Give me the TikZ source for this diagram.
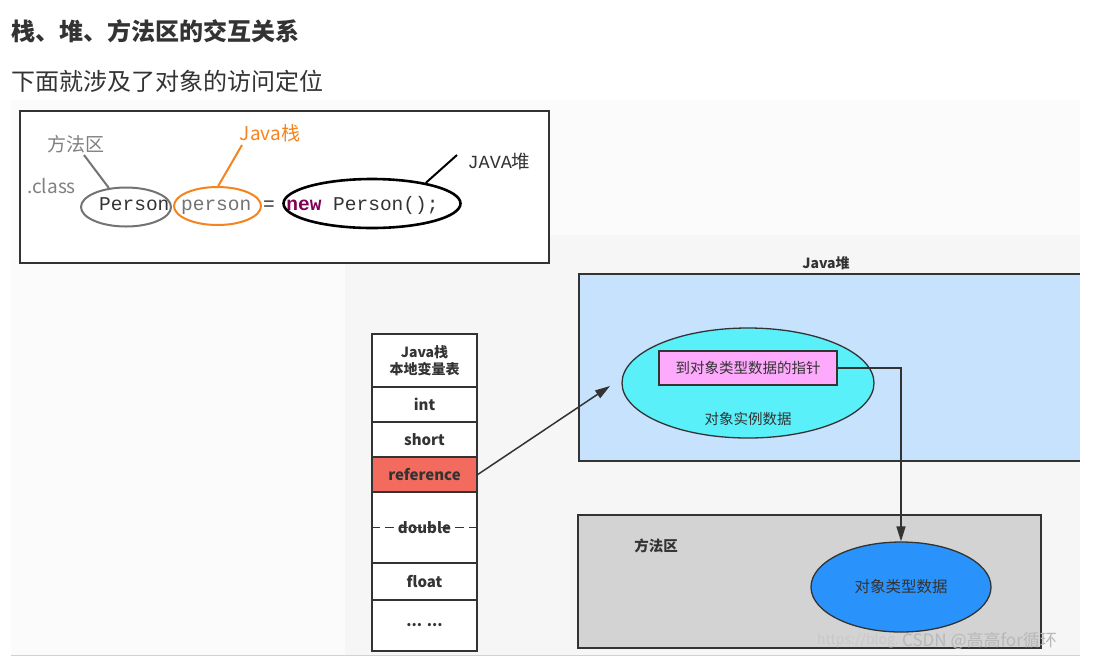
\documentclass[tikz,border=0pt]{standalone}
\usepackage{fontspec}
\setmainfont{Noto Sans CJK SC}
\newfontfamily\mono{Liberation Mono}
\usetikzlibrary{arrows.meta,shapes.geometric}
\definecolor{titlec}{HTML}{333333}
\definecolor{linec}{HTML}{333333}
\definecolor{bgA}{HTML}{FAFBFA}
\definecolor{bgB}{HTML}{F5F6F5}
\definecolor{heapc}{HTML}{C6E2FD}
\definecolor{methc}{HTML}{D2D3D2}
\definecolor{cyanc}{HTML}{5AF0FA}
\definecolor{pinkc}{HTML}{FDA9FC}
\definecolor{bluec}{HTML}{2A92FB}
\definecolor{refc}{HTML}{F26B5E}
\definecolor{grayl}{HTML}{808080}
\definecolor{orangel}{HTML}{F5841F}
\definecolor{purplec}{HTML}{7F0055}
\definecolor{wmc}{HTML}{C8C8C8}
\newcommand\fsz[1]{\fontsize{#1}{#1}\selectfont}
\tikzset{
  cell/.style={draw=linec, line width=1.5, fill=white, minimum width=105, inner sep=0, font=\fsz{15}\bfseries, text=titlec},
  conn/.style={draw=linec, line width=1.5, -{Triangle[length=15,width=9]}},
  lbl/.style={inner sep=0, text=titlec},
}
\begin{document}
\begin{tikzpicture}[x=1pt,y=-1pt]
\useasboundingbox (0,0) rectangle (1105,657);
\fill[white] (0,0) rectangle (1105,657);
% backgrounds
\fill[bgA] (11,100) rectangle (1080,655);
\fill[bgB] (345,235) rectangle (1080,655);
\draw[color=black!18, line width=1.5] (11,655.5) -- (1080,655.5);

% headings
\node[lbl, anchor=west, font=\fsz{24}\bfseries] (title) at (11,31) {栈、堆、方法区的交互关系};
\node[lbl, anchor=west, font=\fsz{24}] (sub) at (11,81) {下面就涉及了对象的访问定位};

% top code box
\node[draw=linec, line width=1.3, fill=white, minimum width=529, minimum height=152, inner sep=0] (codebox) at (284.5,187) {};
\node[inner sep=0, anchor=west, font=\mono\fsz{19.5}] (code) at (99,205)
  {\textcolor{titlec}{Person} \textcolor{black!55}{person} \textcolor{titlec}{=} \textcolor{purplec}{\bfseries new} \textcolor{titlec}{Person();}};
\node[ellipse, draw=black!55, line width=2, minimum width=90, minimum height=39, inner sep=0] (gell) at (126,207) {};
\node[ellipse, draw=orangel, line width=2, minimum width=87, minimum height=38, inner sep=0] (oell) at (217.5,206) {};
\node[ellipse, draw=black, line width=2.6, minimum width=177, minimum height=49, inner sep=0] (bell) at (372,203.5) {};
\node[inner sep=0, text=grayl, font=\fsz{19}] (lmeth) at (76,144) {方法区};
\node[inner sep=0, text=grayl, font=\fsz{19}, anchor=west] (lclass) at (27,186) {.class};
\node[inner sep=0, text=orangel, font=\fsz{19}] (lstack) at (270,133) {Java栈};
\node[inner sep=0, text=titlec, font=\fsz{18.5}] (lheap) at (499,162) {{\mono JAVA}堆};
\coordinate (gend) at (84,155);
\coordinate (oend) at (242,145);
\coordinate (bend) at (457,155);
\draw[black!55, line width=2] (gell.132) -- (gend);
\draw[orangel, line width=2] (oell.88) -- (oend);
\draw[black, line width=2] (bell.21.5) -- (bend);

% Java stack table
\node[cell, minimum height=53, align=center, font=\fontsize{14}{17}\selectfont\bfseries] (hdr) at (424.5,360.5) {Java栈\\本地变量表};
\node[cell, minimum height=35] (int) at (424.5,404.5) {int};
\node[cell, minimum height=35] (short) at (424.5,439.5) {short};
\node[cell, minimum height=35, fill=refc] (ref) at (424.5,474.5) {reference};
\node[cell, minimum height=71] (dbl) at (424.5,527.5) {};
\draw[linec, line width=1.5, dash pattern=on 9pt off 5pt] (dbl.west) -- (dbl.east);
\node[lbl, font=\fsz{15}\bfseries] (dbltxt) at (424.5,528) {double};
\node[cell, minimum height=37] (flt) at (424.5,581.5) {float};
\node[cell, minimum height=51] (dots) at (424.5,625.5) {... ...};

% heap
\node[lbl, font=\fsz{14}\bfseries] (heaplbl) at (826,263) {Java堆};
\fill[heapc] (579,274) rectangle (1080,461);
\draw[linec, line width=1.8] (1080,274) -- (579,274) -- (579,461) -- (1080,461);
\node[ellipse, draw=linec, line width=1.3, fill=cyanc, minimum width=252, minimum height=110, inner sep=0] (inst) at (748,383) {};
\node[draw=linec, line width=1.5, fill=pinkc, minimum width=178, minimum height=34, inner sep=0, font=\fsz{14.5}, text=titlec] (ptr) at (748,368) {到对象类型数据的指针};
\node[lbl, font=\fsz{14.5}] (insttxt) at (748,419) {对象实例数据};

% method area
\node[draw=linec, line width=1.8, fill=methc, minimum width=463, minimum height=133, inner sep=0] (meth) at (809.5,581.5) {};
\node[lbl, font=\fsz{14.5}\bfseries] (methlbl) at (656,546) {方法区};
\node[ellipse, draw=linec, line width=1.3, fill=bluec, minimum width=180, minimum height=90, inner sep=0, font=\fsz{15.5}, text=titlec] (typ) at (901,587) {对象类型数据};

% connectors
\coordinate (refend) at (610,386);
\draw[conn] (ref.east) -- (refend);
\draw[conn] (ptr.east) -| (typ.north);

% watermark
\node[inner sep=0, anchor=west, text=wmc, font=\fsz{14}] (wm1) at (817,641) {https://blog.};
\node[inner sep=0, anchor=west, text=black!28, font=\fsz{17}] (wm2) at (902,641) {CSDN @高高for循环};
\end{tikzpicture}
\end{document}
